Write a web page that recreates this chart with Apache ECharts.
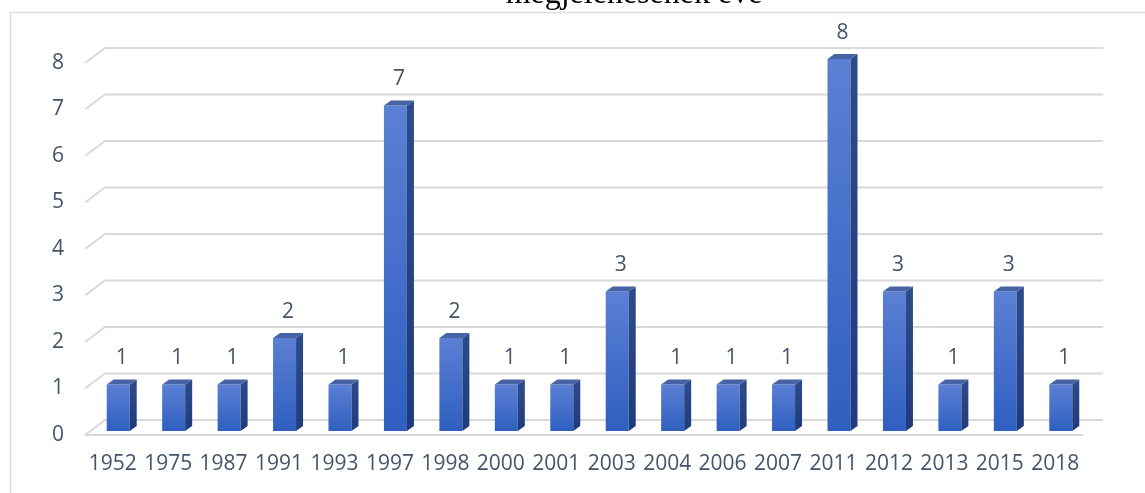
<!DOCTYPE html>
<html>
<head>
<meta charset="utf-8">
<script src="https://cdn.jsdelivr.net/npm/echarts@6/dist/echarts.min.js"></script>
<style>
html,body{margin:0;padding:0;background:#fff;}
#chart{width:1145px;height:493px;}
</style>
</head>
<body>
<div id="chart"></div>
<script>
const titleText = 'megjelenésének éve';
const categories = ['1952','1975','1987','1991','1993','1997','1998','2000','2001','2003','2004','2006','2007','2011','2012','2013','2015','2018'];
const counts = [1,1,1,2,1,7,2,1,1,3,1,1,1,8,3,1,3,1];
const yTicks = [0,1,2,3,4,5,6,7,8];

const DEPTH_X = 20, DEPTH_Y = 15;      // floor depth (perspective)
const BAR_OFF_X = 5.5, BAR_OFF_Y = 4;  // bar front offset from front plane
const BAR_W = 23, BAR_DX = 7, BAR_DY = 5;
const textColor = '#44546A';
const gridColor = '#D9D9D9';
const labelFont = '"Open Sans", sans-serif';

const chart = echarts.init(document.getElementById('chart'), null, {renderer:'canvas'});

const option = {
  backgroundColor: '#ffffff',
  animation: false,
  graphic: [
    { type:'rect', z:-10, shape:{x:10.5, y:12.5, width:1300, height:700},
      style:{fill:null, stroke:'#D9DEE5', lineWidth:1.5} },
    { type:'text', z: 10, x: 634, y: -21,
      style:{ text: titleText, font: '32px "Liberation Serif", "Times New Roman", serif', fill:'#000', align:'center' } }
  ],
  grid: { left: 85, right: 62, top: 63, bottom: 58, containLabel: false },
  xAxis: {
    type: 'category', data: categories, boundaryGap: true,
    axisLine: {show:false}, axisTick: {show:false},
    axisLabel: { color: textColor, fontSize: 21, fontFamily: labelFont, margin: 19, interval: 0 }
  },
  yAxis: {
    type: 'value', min: 0, max: 8, interval: 1,
    axisLine: {show:false}, axisTick: {show:false}, splitLine: {show:false},
    axisLabel: { color: textColor, fontSize: 21, fontFamily: labelFont, margin: 21 }
  },
  series: [
    {
      type: 'custom', name: 'grid', z: 1, silent: true,
      data: yTicks.map(v => [0, v]),
      encode: { x: 0, y: 1 },
      renderItem: function (params, api) {
        const cs = params.coordSys;
        const v = api.value(1);
        const y = api.coord([0, v])[1];
        const left = cs.x, right = cs.x + cs.width;
        const children = [
          { type:'polyline', shape:{ points:[[left, y],[left+DEPTH_X, y-DEPTH_Y],[right+DEPTH_X, y-DEPTH_Y]] },
            style:{ stroke: gridColor, lineWidth: 2, fill: null } }
        ];
        if (v === 0) {
          children.push({ type:'line', shape:{x1:left, y1:y, x2:right, y2:y},
            style:{ stroke: gridColor, lineWidth: 2 } });
        }
        return { type:'group', children };
      }
    },
    {
      type: 'custom', name: 'bars', z: 2,
      data: counts.map((v, i) => [i, v]),
      encode: { x: 0, y: 1 },
      renderItem: function (params, api) {
        const i = api.value(0), v = api.value(1);
        const top = api.coord([i, v]);
        const base = api.coord([i, 0]);
        const cx = top[0] + BAR_OFF_X;
        const yT = top[1] - BAR_OFF_Y;
        const yB = base[1] - BAR_OFF_Y;
        const L = cx - BAR_W / 2, R = cx + BAR_W / 2;
        return {
          type: 'group',
          children: [
            { type:'rect', shape:{x:L, y:yT, width:BAR_W, height:yB-yT},
              style:{ fill: new echarts.graphic.LinearGradient(0,0,0,1,[
                {offset:0,color:'#5B80D4'},{offset:1,color:'#2F5FC0'}]) } },
            { type:'polygon', shape:{ points:[[R,yT],[R+BAR_DX,yT-BAR_DY],[R+BAR_DX,yB-BAR_DY],[R,yB]] },
              style:{ fill: new echarts.graphic.LinearGradient(0,0,0,1,[
                {offset:0,color:'#2E4B8C'},{offset:1,color:'#1F3B7C'}]) } },
            { type:'polygon', shape:{ points:[[L,yT],[L+BAR_DX,yT-BAR_DY],[R+BAR_DX,yT-BAR_DY],[R,yT]] },
              style:{ fill:'#4763A6' } },
            { type:'text', x: cx + BAR_DX/2, y: top[1] - 30,
              style:{ text: String(v), fill: textColor, font: '21px ' + labelFont,
                      align:'center', verticalAlign:'middle' } }
          ]
        };
      }
    }
  ]
};
chart.setOption(option);
</script>
</body>
</html>
